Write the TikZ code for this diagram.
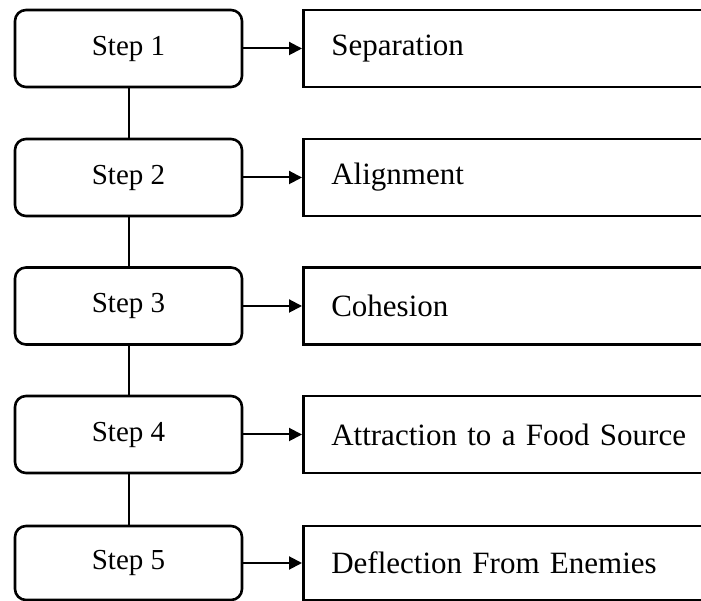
\documentclass[tikz,border=0pt]{standalone}
\usepackage{fontspec}
\setmainfont{Liberation Serif}
\usetikzlibrary{positioning,arrows.meta}

\tikzset{
  stepbox/.style={draw, line width=2.6pt, rounded corners=11pt, minimum width=227pt,
    minimum height=77pt, font=\fontsize{29}{34}\selectfont},
  rulebox/.style={draw, line width=2.6pt, anchor=west, minimum height=77pt,
    text width=420pt, inner xsep=28pt, align=left, font=\fontsize{31}{37}\selectfont},
  link/.style={line width=2pt},
  toarrow/.style={line width=2pt, -{Triangle[length=13pt,width=13pt]}}
}

\begin{document}
\begin{tikzpicture}[x=1pt,y=1pt]
% Frame of the picture
\clip (0,0) rectangle (701,601);
% Steps
\node[stepbox] (s1) at (128.5,552.5) {Step 1};
\node[stepbox] (s2) at (128.5,423.5) {Step 2};
\node[stepbox] (s3) at (128.5,295) {Step 3};
\node[stepbox] (s4) at (128.5,166.5) {Step 4};
\node[stepbox, minimum height=74pt] (s5) at (128.5,38) {Step 5};
% Rules
\node[rulebox] (r1) at (302,552.5) {Separation};
\node[rulebox] (r2) at (302,423.5) {Alignment};
\node[rulebox] (r3) at (302,295) {Cohesion};
\node[rulebox] (r4) at (302,166.5) {Attraction to a Food Source};
\node[rulebox, minimum height=74pt] (r5) at (302,38) {Deflection From Enemies};
% Links between steps
\draw[link] (s1) -- (s2);
\draw[link] (s2) -- (s3);
\draw[link] (s3) -- (s4);
\draw[link] (s4) -- (s5);
% Arrows to rules
\draw[toarrow] (s1.east) -- (r1.west);
\draw[toarrow] (s2.east) -- (r2.west);
\draw[toarrow] (s3.east) -- (r3.west);
\draw[toarrow] (s4.east) -- (r4.west);
\draw[toarrow] (s5.east) -- (r5.west);
\end{tikzpicture}
\end{document}
